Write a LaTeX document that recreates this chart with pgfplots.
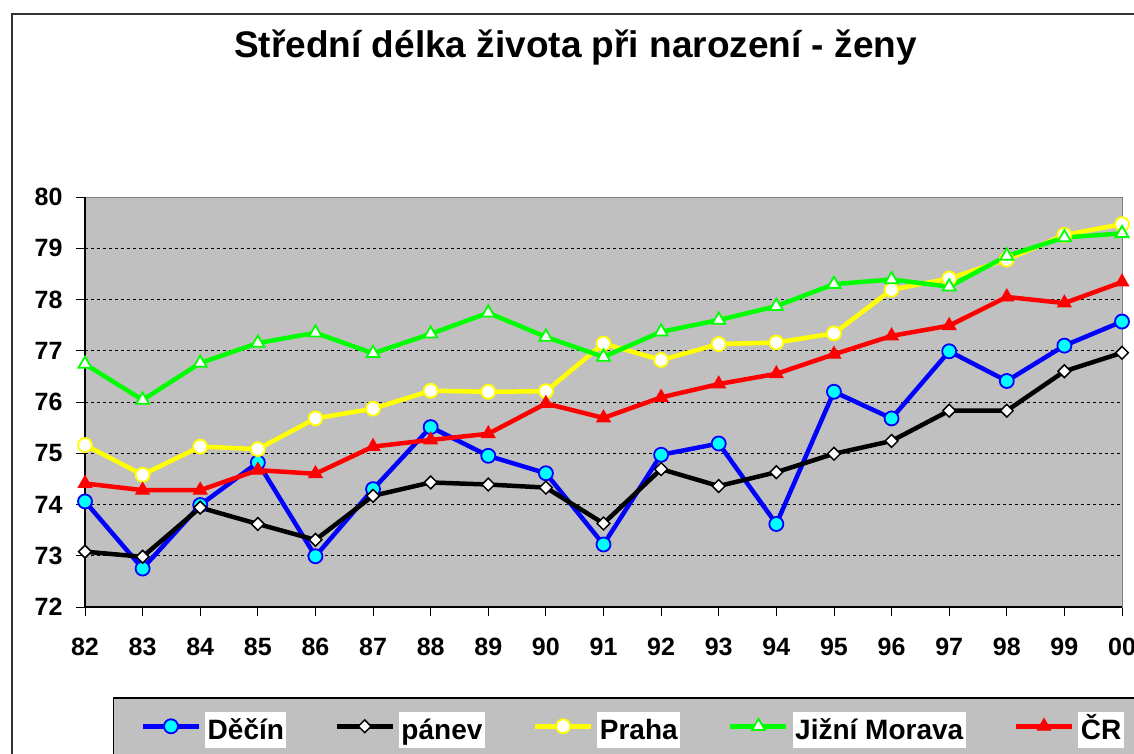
\documentclass[border=0pt]{standalone}
\usepackage{fontspec}
\setmainfont{Liberation Sans}
\usepackage{pgfplots}
\pgfplotsset{compat=1.18}
\definecolor{xgray}{HTML}{C0C0C0}
\definecolor{xblue}{HTML}{0000FF}
\definecolor{xcyan}{HTML}{00FFFF}
\definecolor{xyellow}{HTML}{FFFF00}
\definecolor{xgreen}{HTML}{00FF00}
\definecolor{xred}{HTML}{FF0000}
\newcommand{\lt}[1]{{\setlength{\fboxsep}{2.5pt}\colorbox{white}{\rule[-6.5pt]{0pt}{31pt}#1}}}
\begin{document}
\begin{tikzpicture}
\begin{scope}
\clip (0pt,0pt) rectangle (1134pt,-754pt);
\fill[white] (0pt,0pt) rectangle (1134pt,-754pt);
\draw[line width=1.5pt, black!80] (12pt,-2000pt) -- (12pt,-14pt) -- (2000pt,-14pt);
\node[font=\fontsize{37}{40}\selectfont\bfseries, anchor=base] at (575.5pt,-58pt) {Střední délka života při narození - ženy};
\begin{axis}[
  at={(85pt,-607pt)}, anchor=south west,
  scale only axis, width=1037pt, height=410pt,
  xmin=82, xmax=100, ymin=72, ymax=80,
  clip=false,
  axis background/.style={fill=xgray},
  axis line style={draw=gray, line width=0.8pt},
  xtick={82,...,100},
  xticklabels={82,83,84,85,86,87,88,89,90,91,92,93,94,95,96,97,98,99,00},
  ytick={72,...,80},
  tick pos=left, tick align=outside, major tick length=9pt,
  tick style={black, line width=0.8pt},
  ymajorgrids, grid style={black, line width=0.6pt, dash pattern=on 3pt off 3pt},
  /pgf/number format/assume math mode=true,
  ticklabel style={font=\fontsize{25}{25}\selectfont\bfseries},
  xticklabel style={yshift=-19pt},
  yticklabel style={xshift=-10pt},
  legend style={at={(0.027,-0.2195)}, anchor=north west, fill=xgray, draw=black, line width=1.5pt,
    inner xsep=27pt, inner ysep=14pt,
    font=\fontsize{28}{30}\selectfont\bfseries,
    nodes={inner sep=0pt},
    /tikz/every even column/.append style={column sep=48pt},
    /tikz/every odd column/.append style={column sep=4pt}},
  legend columns=5,
  legend image code/.code={\draw[mark repeat=2,mark phase=2,#1] plot coordinates {(0pt,0pt) (28pt,0pt) (56pt,0pt)};},
]
\addplot[xblue, line width=4.5pt, mark=*, mark size=7pt, mark options={fill=xcyan, draw=xblue, line width=1.8pt}] coordinates {
(82,74.06) (83,72.75) (84,73.99) (85,74.82) (86,72.99) (87,74.30) (88,75.51) (89,74.95) (90,74.61) (91,73.22)
(92,74.97) (93,75.19) (94,73.62) (95,76.20) (96,75.68) (97,76.99) (98,76.41) (99,77.10) (100,77.57)};
\addlegendentry{\lt{Děčín}}
\addplot[black, line width=4.5pt, mark=square*, mark size=4.5pt, mark options={rotate=45, fill=white, draw=black, line width=1.5pt}] coordinates {
(82,73.08) (83,72.98) (84,73.94) (85,73.62) (86,73.31) (87,74.17) (88,74.43) (89,74.39) (90,74.33) (91,73.63)
(92,74.69) (93,74.36) (94,74.63) (95,74.99) (96,75.24) (97,75.83) (98,75.83) (99,76.60) (100,76.96)};
\addlegendentry{\lt{pánev}}
\addplot[xyellow, line width=4.5pt, mark=*, mark size=7pt, mark options={fill=white, draw=xyellow, line width=1.8pt}] coordinates {
(82,75.16) (83,74.58) (84,75.13) (85,75.08) (86,75.68) (87,75.87) (88,76.22) (89,76.20) (90,76.21) (91,77.14)
(92,76.82) (93,77.13) (94,77.16) (95,77.34) (96,78.19) (97,78.41) (98,78.78) (99,79.26) (100,79.47)};
\addlegendentry{\lt{Praha}}
\addplot[xgreen, line width=4.5pt, mark=triangle*, mark size=7.5pt, mark options={fill=white, draw=xgreen, line width=1.8pt}] coordinates {
(82,76.74) (83,76.04) (84,76.76) (85,77.15) (86,77.35) (87,76.95) (88,77.33) (89,77.74) (90,77.27) (91,76.88)
(92,77.37) (93,77.60) (94,77.87) (95,78.30) (96,78.39) (97,78.25) (98,78.85) (99,79.21) (100,79.29)};
\addlegendentry{\lt{Jižní Morava}}
\addplot[xred, line width=4.5pt, mark=triangle*, mark size=7.8pt, mark options={fill=xred, draw=xred, line width=1pt}] coordinates {
(82,74.41) (83,74.28) (84,74.28) (85,74.67) (86,74.60) (87,75.13) (88,75.26) (89,75.38) (90,75.97) (91,75.69)
(92,76.09) (93,76.35) (94,76.55) (95,76.93) (96,77.29) (97,77.49) (98,78.05) (99,77.93) (100,78.34)};
\addlegendentry{\lt{ČR}}
\draw[black, line width=1.2pt] (rel axis cs:0,1) -- (rel axis cs:0,0) -- (rel axis cs:1,0);
\end{axis}
\end{scope}
\pgfresetboundingbox
\path[use as bounding box] (0pt,0pt) rectangle (1134pt,-754pt);
\end{tikzpicture}
\end{document}
